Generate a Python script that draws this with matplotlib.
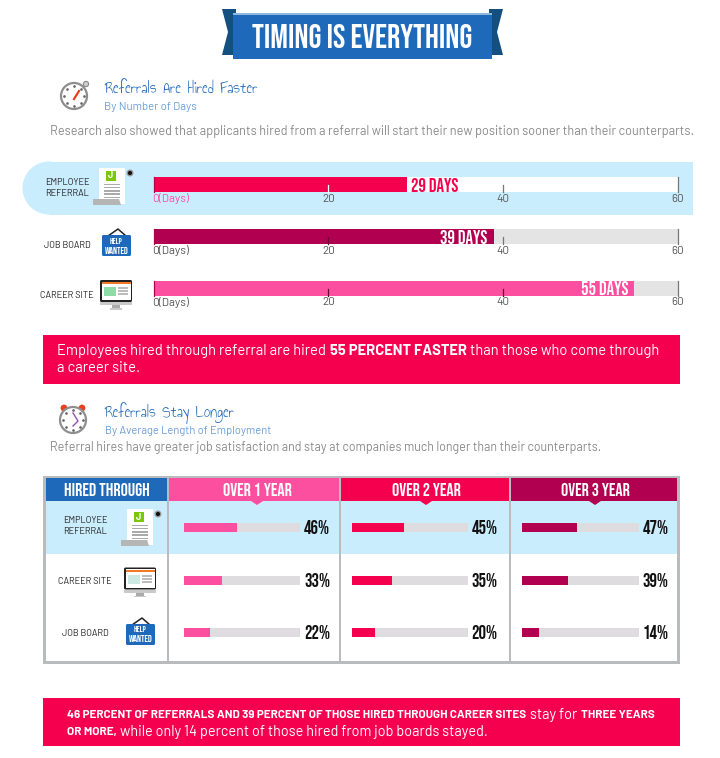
import matplotlib
matplotlib.use("Agg")
import matplotlib.pyplot as plt
from matplotlib.patches import Rectangle, Polygon, Circle, FancyBboxPatch
from matplotlib import font_manager as fm

# ---------- data ----------
source_labels = ["EMPLOYEE\nREFERRAL", "JOB BOARD", "CAREER SITE"]
days_to_hire = [29, 39, 55]
day_ticks = [0, 20, 40, 60]
day_tick_labels = ["0(Days)", "20", "40", "60"]

table_rows = ["EMPLOYEE\nREFERRAL", "CAREER SITE", "JOB BOARD"]
table_columns = ["OVER 1 YEAR", "OVER 2 YEAR", "OVER 3 YEAR"]
over_1_year = [46, 33, 22]
over_2_year = [45, 35, 20]
over_3_year = [47, 39, 14]

W, H = 720, 758
RED, DARK, PINK, BLUE = "#F5004F", "#B0004F", "#FC4F9F", "#1F69BA"
LIGHT, TRACK, TRACK2, EDGE = "#CAEDFE", "#E4E4E4", "#DEDCDE", "#B9BBBD"
names = {f.name for f in fm.fontManager.ttflist}


def pick(*cands):
    for c in cands:
        if c in names:
            return c
    return "DejaVu Sans"


BODY = pick("Barlow", "Roboto", "Open Sans")
NARROW = pick("Bebas Neue", "Oswald", "Liberation Sans Narrow", "Roboto")
HAND = pick("Annie Use Your Telescope", "Sue Ellen Francisco", "Roboto")
NARROW_W = "normal" if NARROW == "Bebas Neue" else "bold"

fig = plt.figure(figsize=(W / 100, H / 100), dpi=100, facecolor="white")
ax = fig.add_axes([0, 0, 1, 1])
ax.set_xlim(0, W)
ax.set_ylim(H, 0)
ax.axis("off")


def rect(x0, y0, x1, y1, c, z=1, a=ax):
    a.add_patch(Rectangle((x0, y0), x1 - x0, y1 - y0, fc=c, ec="none", zorder=z))


def poly(pts, c, z=3):
    ax.add_patch(Polygon(pts, closed=True, fc=c, ec="none", zorder=z))


def txt(x, y, s, size, color="#222222", ha="left", weight="normal", family=BODY, z=6, **kw):
    return ax.text(x, y, s, fontsize=size, color=color, ha=ha, va="center",
                   fontweight=weight, family=family, zorder=z, **kw)


def rich(x, y, parts, color="white"):
    rend = fig.canvas.get_renderer()
    inv = ax.transData.inverted()
    for s, w, size in parts:
        t = txt(x, y, s, size, color=color, weight=w, z=7)
        bb = t.get_window_extent(rend)
        x = inv.transform((bb.x1, bb.y0))[0] + 3.6


def bar_axes(x0, x1, y0, y1, xmax):
    a = fig.add_axes([x0 / W, 1 - y1 / H, (x1 - x0) / W, (y1 - y0) / H], zorder=4)
    a.set_xlim(0, xmax)
    a.set_ylim(0, 1)
    a.axis("off")
    return a


# ---------- icons ----------
def doc_icon(x, y):
    rect(x + 5, y, x + 31, y + 36, "white", 3)
    poly([(x - 1, y + 31), (x + 25, y + 31), (x + 27, y + 37), (x - 1, y + 37)], "#B5B5B5", 4)
    rect(x + 12, y + 3, x + 22, y + 13, "#7AC70C", 4)
    txt(x + 17, y + 8, "J", 6.5, color="white", ha="center", weight="bold")
    for i in range(5):
        rect(x + 10, y + 15.5 + i * 3.3, x + 26, y + 17 + i * 3.3, "#AAAAAA", 4)
    ax.add_patch(Circle((x + 36, y + 5), 2.8, fc="#111111", ec="#999999", lw=1, zorder=5))


def sign_icon(x, y):
    ax.plot([x + 7, x + 17, x + 25], [y + 7, y, y + 7], color="#222222", lw=1.1, zorder=4)
    ax.add_patch(FancyBboxPatch((x + 1, y + 6), 29, 21, boxstyle="round,pad=0,rounding_size=1.5",
                                fc=BLUE, ec="none", zorder=5))
    txt(x + 15.5, y + 11.5, "HELP", 6, color="white", ha="center", family=NARROW)
    txt(x + 15.5, y + 21, "WANTED", 6.8, color="white", ha="center", family=NARROW)


def monitor_icon(x, y, pale=False):
    ax.add_patch(FancyBboxPatch((x, y), 32, 22, boxstyle="round,pad=0,rounding_size=1.5",
                                fc="#222222", ec="none", zorder=3))
    rect(x + 1.5, y + 1.5, x + 30.5, y + 20, "white", 4)
    rect(x + 1.5, y + 2, x + 30.5, y + 4, "#F47A2A", 5)
    rect(x + 4, y + 7, x + 16, y + 16, "#CDE9E4" if pale else "#8FDCA8", 5)
    for i in range(3):
        rect(x + 18, y + 7 + i * 3, x + 28, y + 9 + i * 3, "#BDBDBD", 5)
    rect(x, y + 22, x + 32, y + 25, "#C9C9C9", 3)
    rect(x + 12, y + 25, x + 20, y + 28, "#AAAAAA", 3)
    rect(x + 10, y + 28, x + 22, y + 29.5, "#C9C9C9", 3)


def watch_icon(cx, cy, top_bells=False):
    ax.add_patch(Circle((cx, cy), 13, fc="white", ec="#8E8E8E", lw=1.6, zorder=3))
    if top_bells:
        ax.add_patch(Circle((cx - 9, cy - 12), 3.4, fc="#E8401C", ec="none", zorder=2))
        ax.add_patch(Circle((cx + 9, cy - 12), 3.4, fc="#E8401C", ec="none", zorder=2))
        ax.plot([cx, cx + 5, cx], [cy - 7, cy + 1, cy + 6], color="#9A4FB0", lw=1, zorder=4)
    else:
        ax.add_patch(Circle((cx + 12, cy - 12), 2.6, fc="#D0D0D0", ec="#888888", lw=0.8, zorder=3))
        ax.plot([cx, cx + 5], [cy + 3, cy - 5], color="#E8401C", lw=1.6, zorder=4)
    for dx, dy in [(0, -10), (10, 0), (0, 10), (-10, 0), (7, -7), (7, 7), (-7, 7), (-7, -7)]:
        ax.plot(cx + dx, cy + dy, ".", ms=1.8, color="#666666", zorder=4)


# ---------- banner ----------
poly([(222, 9), (236, 9), (236, 55), (222, 55), (228, 32)], "#14507F", 2)
poly([(503, 9), (489, 9), (489, 55), (503, 55), (497, 32)], "#14507F", 2)
rect(233, 13, 492, 59, BLUE, 3)
rect(233, 13, 492, 14.5, "#8DB8E0", 4)
txt(362, 36.5, "TIMING IS EVERYTHING", 23.7, color="white", ha="center", weight=NARROW_W, family=NARROW)

# ---------- section 1 ----------
watch_icon(74, 96)
txt(104, 90, "Referrals Are Hired Faster", 12.6, color=BLUE, family=HAND)
txt(104, 107, "By Number of Days", 8.2, color="#6C9FD8")
txt(50, 131, "Research also showed that applicants hired from a referral will start their new position sooner than their counterparts.",
    9.13, color="#8A8A8A")

ax.add_patch(Circle((49, 188), 26.5, fc=LIGHT, ec="none", zorder=1))
rect(49, 161.5, 693, 214.5, LIGHT, 1)

row_tops = [177, 229, 280.5]
row_colors = [RED, DARK, PINK]
label_y = [188, 245, 296]
label_x = [67, 67, 66.5]
for i, (lab, v) in enumerate(zip(source_labels, days_to_hire)):
    top = row_tops[i]
    a = bar_axes(153.5, 678, top, top + 15, 60)
    a.barh(0.5, 60, height=1, color="white" if i == 0 else TRACK, zorder=1)
    a.barh(0.5, v, height=1, color=row_colors[i], zorder=2)
    for t, tl in zip(day_ticks, day_tick_labels):
        if t == 0:
            tc = "#B0004F"
        elif i == 0 and t == 20:
            tc = "white"
        elif t < v:
            tc = "#6A0030"
        else:
            tc = "#777777"
        a.plot([t, t], [0, 1.0 if t in (0, 60) else 0.45], color=tc, lw=0.9, zorder=3, clip_on=False)
        lc = PINK if (i == 0 and t == 0) else "#555555"
        a.annotate(tl, (t, 0), xytext=(-1.2 if t == 0 else 0, -4.8), textcoords="offset points",
                   ha="left" if t == 0 else "center", va="center", fontsize=8.4,
                   color=lc, family=BODY, annotation_clip=False)
    label = f"{v} DAYS"
    if i == 0:
        a.annotate(label, (v, 0.47), xytext=(3, 0), textcoords="offset points", ha="left", va="center",
                   color=RED, fontsize=13.5, fontweight=NARROW_W, family=NARROW, zorder=5)
    else:
        a.annotate(label, (v, 0.47), xytext=(-4 if i == 2 else -5.5, 0), textcoords="offset points",
                   ha="right", va="center",
                   color="white", fontsize=13.5, fontweight=NARROW_W, family=NARROW, zorder=5)
    txt(label_x[i], label_y[i], lab, 6.6, ha="center", linespacing=1.4)

doc_icon(94, 168)
sign_icon(101, 229)
monitor_icon(100, 280)

rect(43, 335, 680, 384, RED, 2)
rich(57, 351, [("Employees hired through referral are hired", "normal", 10.6), ("55 PERCENT FASTER", "bold", 10.6),
               ("than those who come through", "normal", 10.6)])
rich(57, 368, [("a career site.", "normal", 10.6)])

# ---------- section 2 ----------
watch_icon(73, 420, top_bells=True)
txt(104, 413, "Referrals Stay Longer", 12.4, color=BLUE, family=HAND)
txt(105, 431, "By Average Length of Employment", 8.05, color="#6C9FD8")
txt(50, 448, "Referral hires have greater job satisfaction and stay at companies much longer than their counterparts.",
    8.95, color="#8A8A8A")

# ---------- table ----------
rect(43, 476, 680, 664, EDGE, 1)
col_edges = [(46, 167), (169, 339), (341, 509), (511, 677)]
for x0, x1 in col_edges:
    rect(x0, 501, x1, 554, LIGHT, 2)
    rect(x0, 554, x1, 661, "white", 2)
rect(46, 477.5, 167, 501, BLUE, 3)
txt(107, 489.5, "HIRED THROUGH", 13, color="white", ha="center", weight=NARROW_W, family=NARROW)

col_values = [over_1_year, over_2_year, over_3_year]
col_colors = [PINK, RED, DARK]
bar_x = [(184, 300), (351.7, 467.7), (522.3, 638.7)]
value_x = [317, 484.7, 655.5]
header_mid = [257, 426, 595]
row_y = [522.7, 575.7, 627.7]
for c, (name, vals, colr) in enumerate(zip(table_columns, col_values, col_colors)):
    x0, x1 = col_edges[c + 1]
    rect(x0, 477.5, x1, 501, colr, 3)
    mid = header_mid[c]
    poly([(mid - 6, 501), (mid + 6, 501), (mid, 505)], colr, 4)
    txt(mid, 490, name, 13, color="white", ha="center", weight=NARROW_W, family=NARROW)
    for r, v in enumerate(vals):
        a = bar_axes(bar_x[c][0], bar_x[c][1], row_y[r], row_y[r] + 9, 100)
        a.barh(0.5, 100, height=1, color=TRACK2, zorder=1)
        a.barh(0.5, v, height=1, color=colr, zorder=2)
        txt(value_x[c], row_y[r] + 4.5, f"{v}%", 13.5, color="#111111", ha="center", weight=NARROW_W, family=NARROW)

txt(85, 526, table_rows[0], 6.6, ha="center", linespacing=1.4)
txt(85, 582, table_rows[1], 6.6, ha="center")
txt(85, 633, table_rows[2], 6.6, ha="center")
doc_icon(122, 509)
monitor_icon(124, 567.5, pale=True)
sign_icon(125, 618)

rect(43, 698, 680, 746, RED, 2)
rich(67, 715, [("46 PERCENT OF REFERRALS AND 39 PERCENT OF THOSE HIRED THROUGH CAREER SITES", "bold", 8.4),
               ("stay for", "normal", 10.4), ("THREE YEARS", "bold", 8.4)])
rich(67, 732, [("OR MORE,", "bold", 8.4), ("while only 14 percent of those hired from job boards stayed.", "normal", 10.4)])

fig.savefig("out.png", dpi=100, facecolor="white")
